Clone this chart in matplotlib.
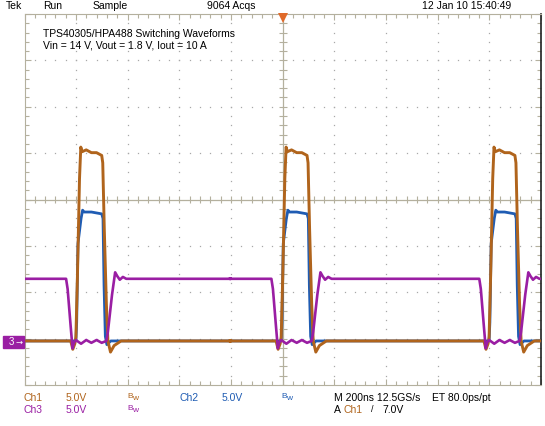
import numpy as np
import matplotlib
matplotlib.use('Agg')
import matplotlib.pyplot as plt
from matplotlib.patches import Rectangle

plt.rcParams['font.family'] = ['Liberation Sans', 'DejaVu Sans']
plt.rcParams['font.size'] = 7.5

# scope settings
T_DIV = 200.0      # ns / div
V_DIV = 5.0        # V / div
GND_POS = -3.05    # channel ground position, div from centre

# switching period starts (ns, rising edge of Ch1)
PULSE_STARTS = [-801, -6, 799]

# one period of each trace, time relative to pulse start (ns), volts
CH1_T = [-200, -20, -12, -4, 0, 6, 14, 19, 24, 40, 60, 80, 100, 104, 110, 118, 124, 134, 148, 175, 600]
CH1_V = [0.0, 0.0, -0.9, -0.3, 0.4, 7.0, 17.5, 20.9, 20.4, 20.6, 20.3, 20.3, 20.0, 19.2, 12.0, 4.0, 0.0, -1.2, -0.5, 0.0, 0.0]

CH2_T = [-200, 0, 3, 8, 12, 20, 26, 32, 60, 100, 105, 109, 114, 120, 135, 600]
CH2_V = [0.0, 0.0, 2.0, 10.5, 11.4, 13.2, 14.1, 13.9, 13.9, 13.7, 13.2, 6.0, 0.5, -0.4, 0.0, 0.0]

CH3_T = [-200, -38, -32, -20, -13, -8, 0, 20, 40, 60, 80, 100, 118, 124, 140, 152, 160, 170, 182, 195, 600]
CH3_V = [6.7, 6.7, 5.6, 1.5, -0.8, -0.2, 0.1, -0.3, 0.1, -0.2, 0.1, -0.2, 0.0, 1.0, 5.0, 7.4, 7.0, 6.6, 6.9, 6.7, 6.7]

C_CH1 = '#b0641c'
C_CH2 = '#1f5cb3'
C_CH3 = '#9a1ea3'
C_GRAT = '#b4b09e'


def build(t_rel, v):
    t = np.concatenate([np.asarray(t_rel, float) + s for s in PULSE_STARTS])
    return t, np.tile(np.asarray(v, float), len(PULSE_STARTS))


fig = plt.figure(figsize=(5.45, 4.26), dpi=100)
W, H = 545.0, 426.0
ax = fig.add_axes([24.5 / W, (H - 385) / H, (541 - 24.5) / W, 371 / H])

v_lo = (-4 - GND_POS) * V_DIV
v_hi = (4 - GND_POS) * V_DIV
v_mid = -GND_POS * V_DIV
ax.set_xlim(-5 * T_DIV, 5 * T_DIV)
ax.set_ylim(v_lo, v_hi)

# graticule
for s in ax.spines.values():
    s.set_color(C_GRAT)
    s.set_linewidth(0.8)
ax.spines['right'].set_color('#202020')
ax.spines['right'].set_linewidth(1.2)
ax.set_xticks(np.arange(-5, 6) * T_DIV)
ax.set_yticks(v_lo + np.arange(0, 9) * V_DIV)
ax.set_xticks(np.arange(-5, 5.01, 0.2) * T_DIV, minor=True)
ax.set_yticks(v_lo + np.arange(0, 8.01, 0.2) * V_DIV, minor=True)
ax.tick_params(which='both', direction='in', top=True, right=True,
               labelbottom=False, labelleft=False, color=C_GRAT, width=0.8)
ax.tick_params(which='major', length=4)
ax.tick_params(which='minor', length=3)

# dotted division lines
dx = np.arange(-5, 5.01, 0.2) * T_DIV
dy = v_lo + np.arange(0, 8.01, 0.2) * V_DIV
for k in range(-4, 5):
    if k == 0:
        continue
    ax.plot(np.full(dy.size, k * T_DIV), dy, ls='none', marker='s', ms=0.9,
            color='#a8a8a8', mew=0, zorder=1)
for k in range(1, 8):
    if k == 4:
        continue
    ax.plot(dx, np.full(dx.size, v_lo + k * V_DIV), ls='none', marker='s', ms=0.9,
            color='#a8a8a8', mew=0, zorder=1)

# centre cross with ticks
ax.axhline(v_mid, color=C_GRAT, lw=0.9, zorder=1)
ax.axvline(0, color=C_GRAT, lw=0.9, zorder=1)
ax.vlines(dx, v_mid - 0.43, v_mid + 0.43, color=C_GRAT, lw=0.8, zorder=1)
ax.hlines(dy, -15, 15, color=C_GRAT, lw=0.8, zorder=1)

# traces
t2, v2 = build(CH2_T, CH2_V)
t1, v1 = build(CH1_T, CH1_V)
t3, v3 = build(CH3_T, CH3_V)
ax.plot(t2, v2, color=C_CH2, lw=2.0, zorder=3)
ax.plot(t1, v1, color=C_CH1, lw=2.1, zorder=4)
ax.plot(t3, v3, color=C_CH3, lw=1.9, zorder=5)

# trigger position marker
ax.plot([0.5], [0.99], transform=ax.transAxes, marker='v', ms=6.5,
        color='#e06a2a', mew=0, clip_on=False, zorder=6)

# channel 3 ground marker
fig.patches.append(Rectangle((3 / W, (H - 348) / H), 21 / W, 12 / H,
                             transform=fig.transFigure, color=C_CH3))
fig.text(9 / W, (H - 342) / H, '3', color='white', fontsize=7, va='center')
fig.text(16 / W, (H - 342) / H, '\u2192', color='white', fontsize=6,
         va='center', family='DejaVu Sans')


def ftext(x, y, s, color='black', size=7.5):
    fig.text(x / W, (H - y) / H, s, color=color, fontsize=size, va='center', ha='left')


# header line
ftext(6, 6, 'Tek')
ftext(43, 6, 'Run')
ftext(93, 6, 'Sample')
ftext(207, 6, '9064 Acqs')
ftext(422, 6, '12 Jan 10 15:40:49')

# annotation
ftext(43, 34, 'TPS40305/HPA488 Switching Waveforms')
ftext(43, 46, 'Vin = 14 V, Vout = 1.8 V, Iout = 10 A')

# footer
ftext(24, 398, 'Ch1', C_CH1)
ftext(66, 398, '5.0V', C_CH1)
ftext(127, 397, 'B', C_CH1, 6)
ftext(132, 399, 'w', C_CH1, 6)
ftext(180, 398, 'Ch2', C_CH2)
ftext(222, 398, '5.0V', C_CH2)
ftext(281, 397, 'B', C_CH2, 6)
ftext(286, 399, 'w', C_CH2, 6)
ftext(334, 398, 'M 200ns 12.5GS/s')
ftext(432, 398, 'ET 80.0ps/pt')
ftext(24, 410, 'Ch3', C_CH3)
ftext(66, 410, '5.0V', C_CH3)
ftext(127, 409, 'B', C_CH3, 6)
ftext(132, 411, 'w', C_CH3, 6)
ftext(334, 410, 'A')
ftext(344, 410, 'Ch1', C_CH1)
ftext(371, 410, '/', 'black', 6.5)
ftext(382, 410, '7.0V')

fig.savefig('out.png', dpi=100)
